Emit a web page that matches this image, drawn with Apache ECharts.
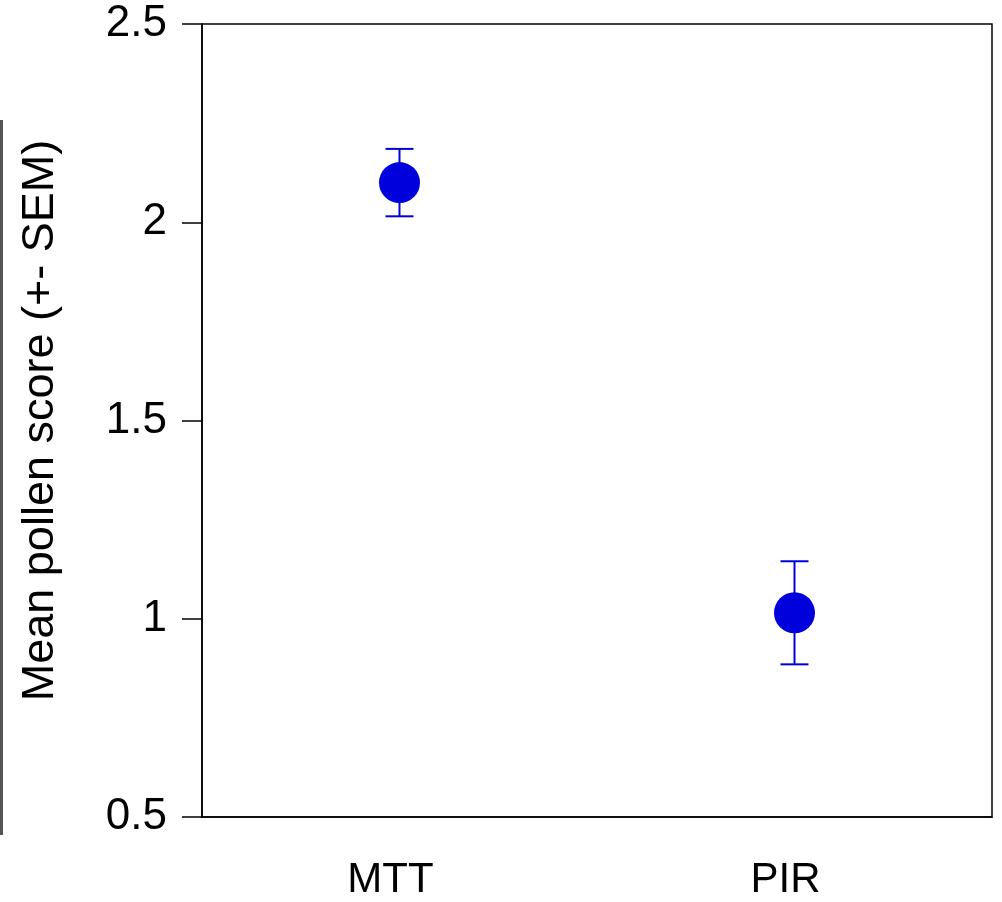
<!DOCTYPE html>
<html>
<head>
<meta charset="utf-8">
<script src="https://cdn.jsdelivr.net/npm/echarts@6/dist/echarts.min.js"></script>
<style>
  html, body { margin: 0; padding: 0; background: #fff; }
  #main { width: 1002px; height: 902px; }
</style>
</head>
<body>
<div id="main"></div>
<script>
// groups on the x axis
var groups = ['MTT', 'PIR'];
// mean pollen score per group
var means = [2.10, 1.015];
// standard error of the mean
var sems = [0.085, 0.13];
var yTicks = [0.5, 1, 1.5, 2, 2.5];

var dotColor = '#0000dc';
var fontName = 'Liberation Sans, Arial, Helvetica, sans-serif';

var errData = [];
groups.forEach(function (g, i) {
  errData.push([i, means[i] - sems[i], means[i] + sems[i]]);
});

var myChart = echarts.init(document.getElementById('main'));

var option = {
  animation: false,
  backgroundColor: '#fff',
  grid: {
    left: 202,
    right: 10,
    top: 24,
    bottom: 85,
    show: true,
    borderColor: '#000',
    borderWidth: 1.5,
    containLabel: false
  },
  xAxis: {
    type: 'category',
    data: groups,
    axisLine: { lineStyle: { color: '#000', width: 1.5 } },
    axisTick: { alignWithLabel: true, length: 21, lineStyle: { color: '#000', width: 1.5 } },
    axisLabel: { color: '#000', fontSize: 42, fontFamily: fontName, margin: 42, padding: [0, 18, 0, 0] },
    splitLine: { show: false }
  },
  yAxis: {
    type: 'value',
    min: yTicks[0],
    max: yTicks[yTicks.length - 1],
    interval: 0.5,
    name: 'Mean pollen score (+- SEM)',
    nameLocation: 'middle',
    nameRotate: 90,
    nameGap: 139,
    nameTextStyle: { color: '#000', fontSize: 45, fontFamily: fontName },
    axisLine: { show: true, lineStyle: { color: '#000', width: 1.5 } },
    axisTick: { show: true, length: 20, lineStyle: { color: '#000', width: 1.5 } },
    axisLabel: { color: '#000', fontSize: 44, fontFamily: fontName, margin: 35 },
    splitLine: { show: false }
  },
  graphic: [{
    type: 'rect',
    shape: { x: 0, y: 120, width: 3, height: 715 },
    style: { fill: '#555' }
  }],
  series: [
    {
      type: 'custom',
      data: errData,
      z: 2,
      renderItem: function (params, api) {
        var x = api.value(0);
        var lo = api.coord([x, api.value(1)]);
        var hi = api.coord([x, api.value(2)]);
        var cap = 14;
        var st = { stroke: dotColor, lineWidth: 2 };
        return {
          type: 'group',
          children: [
            { type: 'line', shape: { x1: hi[0], y1: hi[1], x2: lo[0], y2: lo[1] }, style: st },
            { type: 'line', shape: { x1: hi[0] - cap, y1: hi[1], x2: hi[0] + cap, y2: hi[1] }, style: st },
            { type: 'line', shape: { x1: lo[0] - cap, y1: lo[1], x2: lo[0] + cap, y2: lo[1] }, style: st }
          ]
        };
      }
    },
    {
      type: 'scatter',
      data: means,
      symbol: 'circle',
      symbolSize: 41,
      z: 3,
      itemStyle: { color: dotColor, opacity: 1 }
    }
  ]
};

myChart.setOption(option);
</script>
</body>
</html>
